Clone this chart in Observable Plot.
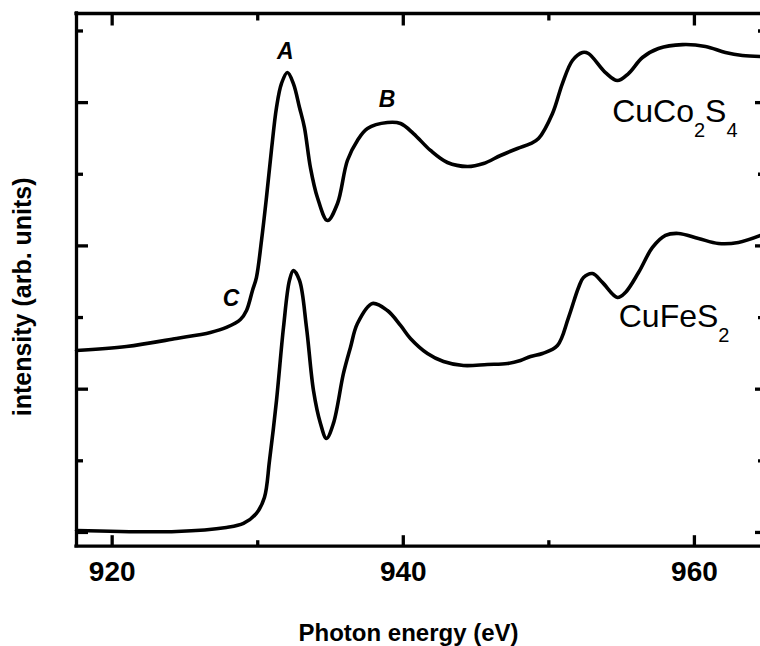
<!DOCTYPE html>
<html>
<head>
<meta charset="utf-8">
<script src="https://cdn.jsdelivr.net/npm/d3@7"></script>
<script src="https://cdn.jsdelivr.net/npm/@observablehq/plot@0.6"></script>
<style>
  html, body { margin: 0; padding: 0; background: #fff; overflow: hidden; }
  #chart svg { display: block; }
</style>
</head>
<body>
<div id="chart"></div>
<script>
// ---- Data ----
const energyCo = [917.55, 920.98, 924.42, 926.75, 927.85, 928.81, 929.23, 929.64, 929.91, 930.26, 930.60, 930.94, 931.29, 931.63, 932.04, 932.45, 932.87, 933.21, 933.62, 934.10, 934.79, 935.48, 936.16, 936.85, 937.54, 938.91, 939.81, 940.70, 941.87, 943.03, 944.41, 945.51, 946.68, 947.84, 948.74, 949.29, 950.25, 950.93, 951.62, 952.31, 952.72, 953.89, 954.71, 955.47, 956.43, 957.53, 959.18, 960.76, 962.13, 963.30, 964.54];
const intensityCo = [1.270, 1.298, 1.354, 1.396, 1.431, 1.486, 1.549, 1.689, 1.779, 2.038, 2.338, 2.666, 2.966, 3.133, 3.210, 3.133, 2.966, 2.826, 2.547, 2.338, 2.177, 2.296, 2.596, 2.736, 2.819, 2.861, 2.854, 2.784, 2.666, 2.582, 2.554, 2.575, 2.631, 2.680, 2.714, 2.749, 2.924, 3.133, 3.294, 3.350, 3.343, 3.210, 3.154, 3.203, 3.315, 3.378, 3.405, 3.392, 3.350, 3.329, 3.322];

const energyFe = [917.55, 924.42, 927.85, 929.02, 929.91, 930.46, 930.81, 931.29, 931.77, 932.18, 932.45, 932.87, 933.35, 933.83, 934.31, 934.72, 935.20, 935.89, 936.37, 936.85, 937.88, 938.91, 939.81, 940.49, 941.66, 942.76, 944.13, 945.78, 947.16, 948.05, 948.74, 949.56, 950.59, 951.35, 952.04, 952.38, 953.00, 953.68, 954.71, 955.26, 956.16, 957.12, 958.01, 958.90, 960.28, 961.65, 963.02, 964.54];
const intensityFe = [0.014, 0.007, 0.035, 0.063, 0.133, 0.244, 0.502, 0.921, 1.431, 1.759, 1.828, 1.759, 1.431, 0.991, 0.761, 0.656, 0.761, 1.110, 1.291, 1.458, 1.598, 1.549, 1.445, 1.354, 1.249, 1.193, 1.165, 1.172, 1.179, 1.200, 1.228, 1.249, 1.305, 1.500, 1.710, 1.779, 1.807, 1.745, 1.640, 1.675, 1.814, 1.989, 2.073, 2.087, 2.052, 2.017, 2.024, 2.073];

const xTickLabels = [920, 940, 960];
const xMinorTicks = [930, 950];
const yMajorTicks = [0, 1, 2, 3];
const yMinorTicks = [0.5, 1.5, 2.5, 3.5];

const peakLabels = ["A", "B", "C"];
const peakX = [931.90, 938.88, 928.16];
const peakY = [3.306, 2.968, 1.581];

const sampleLabels = ["CuCo2S4", "CuFeS2"];
const sampleX = [954.35, 954.80];
const sampleY = [2.863, 1.433];

const xTitle = "Photon energy (eV)";
const yTitle = "intensity (arb. units)";

// ---- Build tables ----
const co = energyCo.map((x, i) => ({x, y: intensityCo[i]}));
const fe = energyFe.map((x, i) => ({x, y: intensityFe[i]}));
const peaks = peakLabels.map((t, i) => ({t, x: peakX[i], y: peakY[i]}));
const samples = sampleLabels.map((t, i) => ({t, x: sampleX[i], y: sampleY[i]}));

const W = 760, H = 646;
const mL = 76, mR = 0, mT = 13, mB = 100.3;
const plotW = W - mL - mR, plotH = H - mT - mB;
const xDomain = [917.55, 964.54];
const yDomain = [-0.096, 3.622];
const font = "'Liberation Sans', Arial, Helvetica, sans-serif";
const sw = 3.3;
// pixel length -> y data units (for inward tick marks)
const pxY = px => px * (yDomain[1] - yDomain[0]) / plotH;
const xTicks = [
  ...xTickLabels.map(v => ({v, y1: yDomain[0], y2: yDomain[0] + pxY(11)})),
  ...xMinorTicks.map(v => ({v, y1: yDomain[0], y2: yDomain[0] + pxY(6)})),
  ...xTickLabels.map(v => ({v, y1: yDomain[1], y2: yDomain[1] - pxY(12)})),
  ...xMinorTicks.map(v => ({v, y1: yDomain[1], y2: yDomain[1] - pxY(7)}))
];

const chart = Plot.plot({
  width: W, height: H,
  marginLeft: mL, marginRight: mR, marginTop: mT, marginBottom: mB,
  style: {fontFamily: font, background: "#fff", color: "#000", overflow: "visible"},
  x: {domain: xDomain, axis: null},
  y: {domain: yDomain, axis: null},
  marks: [
    // frame (left, top, bottom)
    Plot.ruleX([xDomain[0]], {x: d => d, stroke: "#000", strokeWidth: sw, strokeLinecap: "square"}),
    Plot.ruleY([yDomain[0], yDomain[1]], {y: d => d, stroke: "#000", strokeWidth: sw, strokeLinecap: "square"}),
    // x ticks bottom / top (inward)
    Plot.link(xTicks, {x1: "v", x2: "v", y1: "y1", y2: "y2", stroke: "#000", strokeWidth: sw}),
    // y ticks left
    Plot.ruleY(yMajorTicks, {y: d => d, insetRight: plotW - 12, stroke: "#000", strokeWidth: sw}),
    Plot.ruleY(yMinorTicks, {y: d => d, insetRight: plotW - 7, stroke: "#000", strokeWidth: sw}),
    // y ticks right (partly cut off)
    Plot.ruleY(yMajorTicks, {y: d => d, insetLeft: plotW - 5, stroke: "#000", strokeWidth: sw}),
    Plot.ruleY(yMinorTicks, {y: d => d, insetLeft: plotW - 2, stroke: "#000", strokeWidth: sw}),
    // tick labels
    Plot.axisX(xTickLabels, {anchor: "bottom", tickSize: 0, tickPadding: 15, fontSize: 28, fontWeight: "bold", label: null, fill: "#000"}),
    // spectra
    Plot.line(co, {x: "x", y: "y", stroke: "#000", strokeWidth: 3.6, curve: "catmull-rom"}),
    Plot.line(fe, {x: "x", y: "y", stroke: "#000", strokeWidth: 3.6, curve: "catmull-rom"}),
    // peak labels
    Plot.text(peaks, {x: "x", y: "y", text: "t", fontSize: 23, fontWeight: "bold", fontStyle: "italic", lineAnchor: "bottom", textAnchor: "middle", fill: "#000"}),
    // sample labels
    Plot.text(samples, {x: "x", y: "y", text: "t", fontSize: 32, lineAnchor: "bottom", textAnchor: "start", fill: "#000", className: "sample-label"}),
    // axis titles
    Plot.text([xTitle], {text: d => d, frameAnchor: "bottom", textAnchor: "middle", lineAnchor: "bottom", dx: -10, dy: 95, fontSize: 24, fontWeight: "bold", fill: "#000"}),
    Plot.text([yTitle], {text: d => d, frameAnchor: "left", textAnchor: "middle", rotate: -90, lineAnchor: "bottom", dx: -46, dy: 17, fontSize: 25, fontWeight: "bold", fill: "#000"})
  ]
});

// subscripts for chemical formulas
chart.querySelectorAll(".sample-label text").forEach(t => {
  const s = t.textContent;
  t.textContent = "";
  const parts = s.match(/\d+|\D+/g) || [];
  let sub = false;
  parts.forEach(p => {
    const ts = document.createElementNS("http://www.w3.org/2000/svg", "tspan");
    const isNum = /^\d+$/.test(p);
    if (isNum) { ts.setAttribute("font-size", "20"); ts.setAttribute("dy", "15"); sub = true; }
    else if (sub) { ts.setAttribute("dy", "-15"); sub = false; }
    ts.textContent = p;
    t.appendChild(ts);
  });
});

document.getElementById("chart").appendChild(chart);
</script>
</body>
</html>
